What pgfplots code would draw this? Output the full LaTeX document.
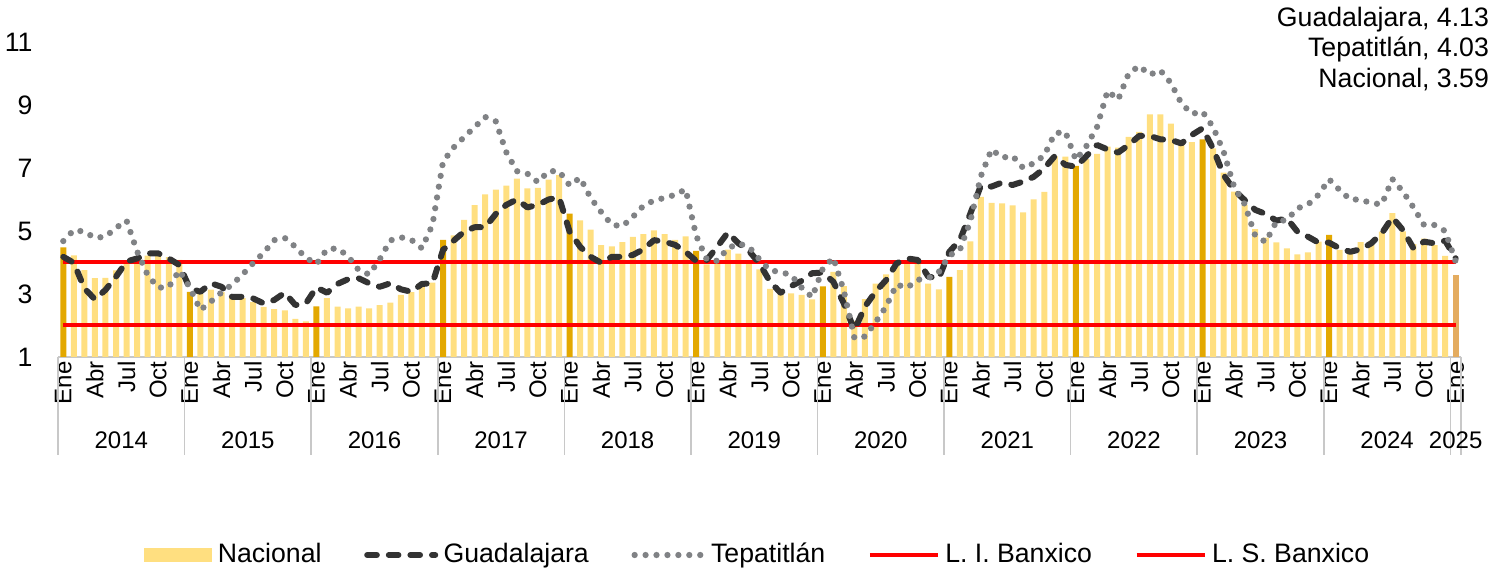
\documentclass[border=0pt]{standalone}
\usepackage{fontspec}
\setmainfont{Liberation Sans}
\usepackage{pgfplots}
\usepackage{pgfplotstable}
\pgfplotsset{compat=1.18}
\definecolor{natcol}{HTML}{FFDF80}
\definecolor{jancol}{HTML}{E3A800}
\definecolor{lastcol}{HTML}{E4AC60}
\definecolor{gdlcol}{HTML}{333333}
\definecolor{tepcol}{HTML}{808285}
\definecolor{sepcol}{HTML}{C8C8C8}
\pgfplotsset{
  lineleg/.style={legend image code/.code={\draw[##1] (0pt,0pt) -- (25.5pt,0pt);}},
  barleg/.style={legend image code/.code={\fill[##1, draw=none] (0pt,-2.6pt) rectangle (25.5pt,2.6pt);}},
}
\pgfplotstableread{
m N G T
0 4.48 4.18 4.68
1 4.23 3.99 5.03
2 3.76 3.18 4.98
3 3.50 2.83 4.78
4 3.51 3.13 4.82
5 3.75 3.55 5.10
6 4.07 4.03 5.33
7 4.15 4.13 4.35
8 4.22 4.29 3.60
9 4.30 4.29 3.20
10 4.17 4.13 3.22
11 4.08 3.92 3.75
12 3.07 3.18 3.20
13 3.00 3.07 2.49
14 3.14 3.34 2.76
15 3.06 3.23 3.05
16 2.88 2.91 3.30
17 2.87 2.91 3.62
18 2.74 2.86 3.98
19 2.59 2.70 4.31
20 2.52 2.81 4.71
21 2.48 3.04 4.78
22 2.21 2.65 4.50
23 2.13 2.70 4.15
24 2.61 3.21 3.95
25 2.87 3.04 4.42
26 2.60 3.32 4.45
27 2.54 3.47 4.20
28 2.60 3.50 3.76
29 2.54 3.34 3.62
30 2.65 3.23 4.10
31 2.73 3.34 4.70
32 2.97 3.15 4.80
33 3.06 3.07 4.72
34 3.31 3.32 4.45
35 3.36 3.34 5.20
36 4.72 4.40 7.20
37 4.86 4.69 7.65
38 5.35 4.98 7.98
39 5.82 5.12 8.30
40 6.16 5.12 8.62
41 6.31 5.54 8.48
42 6.44 5.83 7.50
43 6.66 6.00 6.90
44 6.35 5.75 6.82
45 6.37 5.83 6.55
46 6.63 6.00 6.90
47 6.77 6.07 6.90
48 5.55 4.98 6.45
49 5.34 4.50 6.69
50 5.04 4.18 6.05
51 4.55 3.99 5.60
52 4.51 4.18 5.20
53 4.65 4.18 5.15
54 4.81 4.24 5.45
55 4.90 4.42 5.80
56 5.02 4.71 5.97
57 4.90 4.66 6.05
58 4.72 4.56 6.15
59 4.83 4.34 6.32
60 4.37 4.05 4.85
61 3.94 4.08 4.10
62 4.00 4.50 4.05
63 4.41 4.95 4.45
64 4.28 4.61 4.60
65 3.95 4.37 4.50
66 3.78 3.97 4.10
67 3.16 3.39 3.75
68 3.00 3.04 3.70
69 3.02 3.25 3.60
70 2.97 3.42 3.20
71 2.83 3.66 2.90
72 3.24 3.68 3.80
73 3.70 3.39 4.15
74 3.25 2.70 3.10
75 2.15 1.85 1.60
76 2.84 2.60 1.65
77 3.33 3.07 2.10
78 3.62 3.44 2.60
79 4.05 3.97 3.30
80 4.01 4.13 3.20
81 4.09 4.08 3.45
82 3.33 3.55 3.50
83 3.15 3.50 3.70
84 3.54 4.34 4.22
85 3.76 4.71 4.40
86 4.67 5.56 5.32
87 6.08 6.45 6.75
88 5.89 6.41 7.59
89 5.88 6.54 7.33
90 5.81 6.46 7.38
91 5.59 6.57 7.00
92 6.00 6.72 7.15
93 6.24 6.99 7.40
94 7.37 7.38 8.10
95 7.36 7.10 8.15
96 7.07 7.04 7.25
97 7.28 7.38 7.70
98 7.45 7.73 8.30
99 7.68 7.59 9.45
100 7.65 7.49 9.17
101 7.99 7.73 10.00
102 8.15 8.02 10.24
103 8.70 8.02 9.96
104 8.70 7.91 10.10
105 8.41 7.89 9.70
106 7.80 7.78 9.05
107 7.82 8.05 8.72
108 7.91 8.26 8.79
109 7.62 7.62 8.30
110 6.85 6.78 7.52
111 6.25 6.30 6.40
112 5.84 5.98 5.85
113 5.06 5.67 4.85
114 4.79 5.54 4.65
115 4.64 5.33 5.30
116 4.45 5.40 5.35
117 4.26 4.98 5.72
118 4.32 4.82 5.84
119 4.66 4.63 6.15
120 4.88 4.63 6.64
121 4.40 4.45 6.30
122 4.42 4.34 6.00
123 4.65 4.42 6.00
124 4.69 4.61 5.88
125 4.98 4.93 5.85
126 5.57 5.43 6.65
127 4.99 5.03 6.25
128 4.58 4.45 5.75
129 4.76 4.66 5.19
130 4.55 4.61 5.19
131 4.21 4.69 5.00
132 3.59 4.13 4.03
}\data
\begin{document}
\begin{tikzpicture}
\begin{axis}[
  at={(0,0)}, anchor=south west,
  scale only axis, width=526.1pt, height=118.125pt,
  xmin=-0.5, xmax=132.5, ymin=1, ymax=11,
  ytick={1,3,5,7,9,11},
  xtick={0,3,...,132},
  xticklabels={Ene,Abr,Jul,Oct,Ene,Abr,Jul,Oct,Ene,Abr,Jul,Oct,Ene,Abr,Jul,Oct,Ene,Abr,Jul,Oct,Ene,Abr,Jul,Oct,Ene,Abr,Jul,Oct,Ene,Abr,Jul,Oct,Ene,Abr,Jul,Oct,Ene,Abr,Jul,Oct,Ene,Abr,Jul,Oct,Ene},
  major tick length=0pt,
  axis lines*=left,
  x axis line style={draw=sepcol, line width=0.6pt},
  y axis line style={draw=none},
  clip mode=individual,
  xticklabel style={rotate=90, anchor=east, font=\fontsize{9}{10}\selectfont, inner sep=1.5pt},
  yticklabel style={font=\fontsize{10}{12}\selectfont, xshift=-6pt},
  /pgf/number format/assume math mode=true,
  legend columns=5,
  legend style={at={(0.5,-0.6286)}, anchor=center, draw=none, fill=none,
    font=\fontsize{10}{12}\selectfont, column sep=0pt,
    /tikz/every even column/.append style={column sep=14pt}},
  legend cell align=left,
]
\addplot[ybar, bar width=2.25pt, fill=natcol, draw=none, forget plot,
  x filter/.expression={mod(x,12)==0 ? nan : x}] table[x=m,y=N] {\data};
\addplot[ybar, bar width=2.25pt, fill=jancol, draw=none, forget plot,
  x filter/.expression={(mod(x,12)==0 && x<131) ? x : nan}] table[x=m,y=N] {\data};
\addplot[ybar, bar width=2.25pt, fill=lastcol, draw=none, forget plot,
  x filter/.expression={x>131 ? x : nan}] table[x=m,y=N] {\data};
\addplot[red, line width=1.5pt, forget plot] coordinates {(0,2) (132,2)};
\addplot[red, line width=1.5pt, forget plot] coordinates {(0,4) (132,4)};
\addplot[gdlcol, line width=2.25pt, dash pattern=on 3.6pt off 4.5pt, line cap=round, line join=round, forget plot] table[x=m,y=G] {\data};
\addplot[tepcol, line width=2.35pt, dash pattern=on 0pt off 4.1pt, line cap=round, forget plot] table[x=m,y=T] {\data};

\addlegendimage{barleg, fill=natcol, draw=none}
\addlegendentry{Nacional}
\addlegendimage{lineleg, gdlcol, line width=2.25pt, dash pattern=on 3.6pt off 4.5pt, line cap=round}
\addlegendentry{Guadalajara}
\addlegendimage{lineleg, tepcol, line width=2.35pt, dash pattern=on 0pt off 4.1pt, line cap=round}
\addlegendentry{Tepatitlán}
\addlegendimage{lineleg, red, line width=1.5pt}
\addlegendentry{L. I. Banxico}
\addlegendimage{lineleg, red, line width=1.5pt}
\addlegendentry{L. S. Banxico}

\pgfplotsinvokeforeach{-0.5,11.5,23.5,35.5,47.5,59.5,71.5,83.5,95.5,107.5,119.5,131.5,132.5}{
  \draw[sepcol, line width=0.6pt] (axis cs:#1,1) -- ++(0pt,-36.75pt);
}
\node[font=\fontsize{9}{10}\selectfont, yshift=-31.1pt] at (axis cs:5.5,1) {2014};
\node[font=\fontsize{9}{10}\selectfont, yshift=-31.1pt] at (axis cs:17.5,1) {2015};
\node[font=\fontsize{9}{10}\selectfont, yshift=-31.1pt] at (axis cs:29.5,1) {2016};
\node[font=\fontsize{9}{10}\selectfont, yshift=-31.1pt] at (axis cs:41.5,1) {2017};
\node[font=\fontsize{9}{10}\selectfont, yshift=-31.1pt] at (axis cs:53.5,1) {2018};
\node[font=\fontsize{9}{10}\selectfont, yshift=-31.1pt] at (axis cs:65.5,1) {2019};
\node[font=\fontsize{9}{10}\selectfont, yshift=-31.1pt] at (axis cs:77.5,1) {2020};
\node[font=\fontsize{9}{10}\selectfont, yshift=-31.1pt] at (axis cs:89.5,1) {2021};
\node[font=\fontsize{9}{10}\selectfont, yshift=-31.1pt] at (axis cs:101.5,1) {2022};
\node[font=\fontsize{9}{10}\selectfont, yshift=-31.1pt] at (axis cs:113.5,1) {2023};
\node[font=\fontsize{9}{10}\selectfont, yshift=-31.1pt] at (axis cs:125.5,1) {2024};
\node[font=\fontsize{9}{10}\selectfont, yshift=-31.1pt] at (axis cs:132,1) {2025};
\end{axis}
\node[anchor=east, inner sep=0pt, font=\fontsize{10}{12}\selectfont] at (536.8pt,126.4pt) {Guadalajara, 4.13};
\node[anchor=east, inner sep=0pt, font=\fontsize{10}{12}\selectfont] at (536.8pt,115.4pt) {Tepatitlán, 4.03};
\node[anchor=east, inner sep=0pt, font=\fontsize{10}{12}\selectfont] at (536.8pt,104.0pt) {Nacional, 3.59};
\pgfresetboundingbox
\path[use as bounding box] (-21.75pt,-79.875pt) rectangle (540.75pt,133.875pt);
\end{tikzpicture}
\end{document}
